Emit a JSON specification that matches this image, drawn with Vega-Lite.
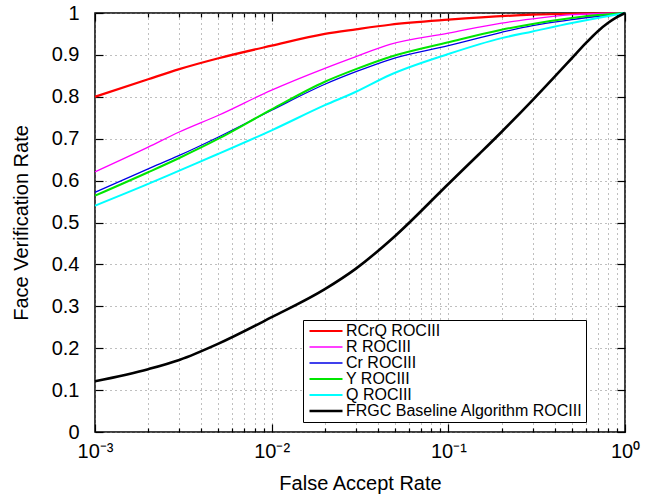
{
  "$schema": "https://vega.github.io/schema/vega-lite/v6.json",
  "autosize": {"type": "none"},
  "padding": {"left": 95, "top": 13, "right": 29, "bottom": 68},
  "width": 530,
  "height": 419,
  "background": "white",
  "config": {
    "view": {"stroke": "black", "strokeWidth": 1.5},
    "font": "Liberation Sans",
    "axis": {
      "labelFont": "Liberation Sans",
      "titleFont": "Liberation Sans",
      "labelFontSize": 20,
      "titleFontSize": 20,
      "titleFontWeight": "normal",
      "labelColor": "black",
      "titleColor": "black",
      "domain": false,
      "ticks": true,
      "tickColor": "black",
      "tickWidth": 1.2,
      "gridColor": "#7f7f7f",
      "gridDash": [1, 4],
      "gridWidth": 1
    }
  },
  "data": {
    "values": [
      {"series": "RCrQ ROCIII", "far": 0.001, "vr": 0.800},
      {"series": "RCrQ ROCIII", "far": 0.002, "vr": 0.842},
      {"series": "RCrQ ROCIII", "far": 0.003, "vr": 0.866},
      {"series": "RCrQ ROCIII", "far": 0.005, "vr": 0.892},
      {"series": "RCrQ ROCIII", "far": 0.01, "vr": 0.922},
      {"series": "RCrQ ROCIII", "far": 0.02, "vr": 0.950},
      {"series": "RCrQ ROCIII", "far": 0.03, "vr": 0.961},
      {"series": "RCrQ ROCIII", "far": 0.0467, "vr": 0.972},
      {"series": "RCrQ ROCIII", "far": 0.1, "vr": 0.984},
      {"series": "RCrQ ROCIII", "far": 0.3, "vr": 0.996},
      {"series": "RCrQ ROCIII", "far": 1, "vr": 1.0},
      {"series": "R ROCIII", "far": 0.001, "vr": 0.621},
      {"series": "R ROCIII", "far": 0.002, "vr": 0.680},
      {"series": "R ROCIII", "far": 0.003, "vr": 0.716},
      {"series": "R ROCIII", "far": 0.005, "vr": 0.756},
      {"series": "R ROCIII", "far": 0.01, "vr": 0.816},
      {"series": "R ROCIII", "far": 0.02, "vr": 0.868},
      {"series": "R ROCIII", "far": 0.03, "vr": 0.896},
      {"series": "R ROCIII", "far": 0.0467, "vr": 0.925},
      {"series": "R ROCIII", "far": 0.1, "vr": 0.952},
      {"series": "R ROCIII", "far": 0.2, "vr": 0.976},
      {"series": "R ROCIII", "far": 0.3, "vr": 0.986},
      {"series": "R ROCIII", "far": 0.5, "vr": 0.996},
      {"series": "R ROCIII", "far": 1, "vr": 1.0},
      {"series": "Cr ROCIII", "far": 0.001, "vr": 0.572},
      {"series": "Cr ROCIII", "far": 0.002, "vr": 0.628},
      {"series": "Cr ROCIII", "far": 0.003, "vr": 0.660},
      {"series": "Cr ROCIII", "far": 0.005, "vr": 0.704},
      {"series": "Cr ROCIII", "far": 0.01, "vr": 0.768},
      {"series": "Cr ROCIII", "far": 0.02, "vr": 0.830},
      {"series": "Cr ROCIII", "far": 0.03, "vr": 0.860},
      {"series": "Cr ROCIII", "far": 0.0467, "vr": 0.889},
      {"series": "Cr ROCIII", "far": 0.1, "vr": 0.922},
      {"series": "Cr ROCIII", "far": 0.2, "vr": 0.954},
      {"series": "Cr ROCIII", "far": 0.3, "vr": 0.970},
      {"series": "Cr ROCIII", "far": 0.5, "vr": 0.984},
      {"series": "Cr ROCIII", "far": 1, "vr": 1.0},
      {"series": "Y ROCIII", "far": 0.001, "vr": 0.564},
      {"series": "Y ROCIII", "far": 0.002, "vr": 0.620},
      {"series": "Y ROCIII", "far": 0.003, "vr": 0.654},
      {"series": "Y ROCIII", "far": 0.005, "vr": 0.700},
      {"series": "Y ROCIII", "far": 0.01, "vr": 0.770},
      {"series": "Y ROCIII", "far": 0.02, "vr": 0.836},
      {"series": "Y ROCIII", "far": 0.03, "vr": 0.866},
      {"series": "Y ROCIII", "far": 0.0467, "vr": 0.895},
      {"series": "Y ROCIII", "far": 0.1, "vr": 0.930},
      {"series": "Y ROCIII", "far": 0.2, "vr": 0.960},
      {"series": "Y ROCIII", "far": 0.3, "vr": 0.974},
      {"series": "Y ROCIII", "far": 0.5, "vr": 0.988},
      {"series": "Y ROCIII", "far": 0.7, "vr": 0.995},
      {"series": "Y ROCIII", "far": 1, "vr": 1.0},
      {"series": "Q ROCIII", "far": 0.001, "vr": 0.540},
      {"series": "Q ROCIII", "far": 0.002, "vr": 0.592},
      {"series": "Q ROCIII", "far": 0.003, "vr": 0.624},
      {"series": "Q ROCIII", "far": 0.005, "vr": 0.664},
      {"series": "Q ROCIII", "far": 0.01, "vr": 0.720},
      {"series": "Q ROCIII", "far": 0.02, "vr": 0.780},
      {"series": "Q ROCIII", "far": 0.03, "vr": 0.812},
      {"series": "Q ROCIII", "far": 0.0467, "vr": 0.852},
      {"series": "Q ROCIII", "far": 0.1, "vr": 0.902},
      {"series": "Q ROCIII", "far": 0.2, "vr": 0.940},
      {"series": "Q ROCIII", "far": 0.3, "vr": 0.956},
      {"series": "Q ROCIII", "far": 0.5, "vr": 0.976},
      {"series": "Q ROCIII", "far": 0.7, "vr": 0.988},
      {"series": "Q ROCIII", "far": 1, "vr": 1.0},
      {"series": "FRGC Baseline Algorithm ROCIII", "far": 0.001, "vr": 0.121},
      {"series": "FRGC Baseline Algorithm ROCIII", "far": 0.002, "vr": 0.150},
      {"series": "FRGC Baseline Algorithm ROCIII", "far": 0.003, "vr": 0.172},
      {"series": "FRGC Baseline Algorithm ROCIII", "far": 0.005, "vr": 0.211},
      {"series": "FRGC Baseline Algorithm ROCIII", "far": 0.01, "vr": 0.274},
      {"series": "FRGC Baseline Algorithm ROCIII", "far": 0.02, "vr": 0.341},
      {"series": "FRGC Baseline Algorithm ROCIII", "far": 0.03, "vr": 0.390},
      {"series": "FRGC Baseline Algorithm ROCIII", "far": 0.05, "vr": 0.468},
      {"series": "FRGC Baseline Algorithm ROCIII", "far": 0.1, "vr": 0.592},
      {"series": "FRGC Baseline Algorithm ROCIII", "far": 0.15, "vr": 0.664},
      {"series": "FRGC Baseline Algorithm ROCIII", "far": 0.2, "vr": 0.716},
      {"series": "FRGC Baseline Algorithm ROCIII", "far": 0.3, "vr": 0.792},
      {"series": "FRGC Baseline Algorithm ROCIII", "far": 0.4, "vr": 0.848},
      {"series": "FRGC Baseline Algorithm ROCIII", "far": 0.5, "vr": 0.892},
      {"series": "FRGC Baseline Algorithm ROCIII", "far": 0.6, "vr": 0.928},
      {"series": "FRGC Baseline Algorithm ROCIII", "far": 0.7, "vr": 0.956},
      {"series": "FRGC Baseline Algorithm ROCIII", "far": 0.8, "vr": 0.976},
      {"series": "FRGC Baseline Algorithm ROCIII", "far": 0.9, "vr": 0.990},
      {"series": "FRGC Baseline Algorithm ROCIII", "far": 1, "vr": 1.0}
    ]
  },
  "resolve": {"axis": {"x": "independent", "y": "independent"}},
  "layer": [
    {
      "mark": {"type": "line", "interpolate": "monotone", "clip": false},
      "encoding": {
        "x": {
          "field": "far", "type": "quantitative",
          "scale": {"type": "log", "domain": [0.001, 1], "nice": false},
          "axis": {
            "title": "False Accept Rate",
            "values": [0.001,0.002,0.003,0.004,0.005,0.006,0.007,0.008,0.009,0.01,0.02,0.03,0.04,0.05,0.06,0.07,0.08,0.09,0.1,0.2,0.3,0.4,0.5,0.6,0.7,0.8,0.9,1],
            "labelExpr": "datum.value==0.001?'10⁻³':datum.value==0.01?'10⁻²':datum.value==0.1?'10⁻¹':datum.value==1?'10⁰':''",
            "grid": true,
            "tickSize": {"condition": {"test": "datum.value==0.001||datum.value==0.01||datum.value==0.1||datum.value==1", "value": -8}, "value": -4},
            "labelPadding": 17,
            "labelFlush": false,
            "labelOverlap": false,
            "titlePadding": 8
          }
        },
        "y": {
          "field": "vr", "type": "quantitative",
          "scale": {"domain": [0, 1], "nice": false},
          "axis": {
            "title": "Face Verification Rate",
            "values": [0,0.1,0.2,0.3,0.4,0.5,0.6,0.7,0.8,0.9,1],
            "format": ".1~f",
            "grid": true,
            "tickSize": -8,
            "labelPadding": 24,
            "titlePadding": 20
          }
        },
        "color": {
          "field": "series", "type": "nominal",
          "scale": {
            "domain": ["RCrQ ROCIII","R ROCIII","Cr ROCIII","Y ROCIII","Q ROCIII","FRGC Baseline Algorithm ROCIII"],
            "range": ["#ff0000","#ff00ff","#0000e6","#00e600","#00ffff","#000000"]
          },
          "legend": {
            "title": null,
            "orient": "none",
            "legendX": 208,
            "legendY": 307,
            "direction": "vertical",
            "fillColor": "white",
            "strokeColor": "black",
            "padding": 3,
            "symbolType": "M-3,0H3",
            "symbolSize": 121,
            "symbolOffset": 12,
            "symbolStrokeWidth": 2,
            "labelFont": "Liberation Sans",
            "labelFontSize": 16,
            "labelColor": "black",
            "labelOffset": 12,
            "labelLimit": 400,
            "rowPadding": 0
          }
        },
        "strokeWidth": {
          "field": "series", "type": "nominal",
          "scale": {
            "type": "ordinal",
            "domain": ["RCrQ ROCIII","R ROCIII","Cr ROCIII","Y ROCIII","Q ROCIII","FRGC Baseline Algorithm ROCIII"],
            "range": [2.2,1.3,1.3,2,2,2.6]
          },
          "legend": null
        }
      }
    },
    {
      "mark": {"type": "point", "opacity": 0},
      "encoding": {
        "x": {
          "field": "far", "type": "quantitative",
          "scale": {"type": "log", "domain": [0.001, 1], "nice": false},
          "axis": {
            "orient": "top",
            "title": null,
            "labels": false,
            "grid": false,
            "values": [0.001,0.002,0.003,0.004,0.005,0.006,0.007,0.008,0.009,0.01,0.02,0.03,0.04,0.05,0.06,0.07,0.08,0.09,0.1,0.2,0.3,0.4,0.5,0.6,0.7,0.8,0.9,1],
            "tickSize": {"condition": {"test": "datum.value==0.001||datum.value==0.01||datum.value==0.1||datum.value==1", "value": -8}, "value": -4}
          }
        },
        "y": {
          "field": "vr", "type": "quantitative",
          "scale": {"domain": [0, 1], "nice": false},
          "axis": {
            "orient": "right",
            "title": null,
            "labels": false,
            "grid": false,
            "values": [0,0.1,0.2,0.3,0.4,0.5,0.6,0.7,0.8,0.9,1],
            "tickSize": -8
          }
        }
      }
    }
  ]
}
